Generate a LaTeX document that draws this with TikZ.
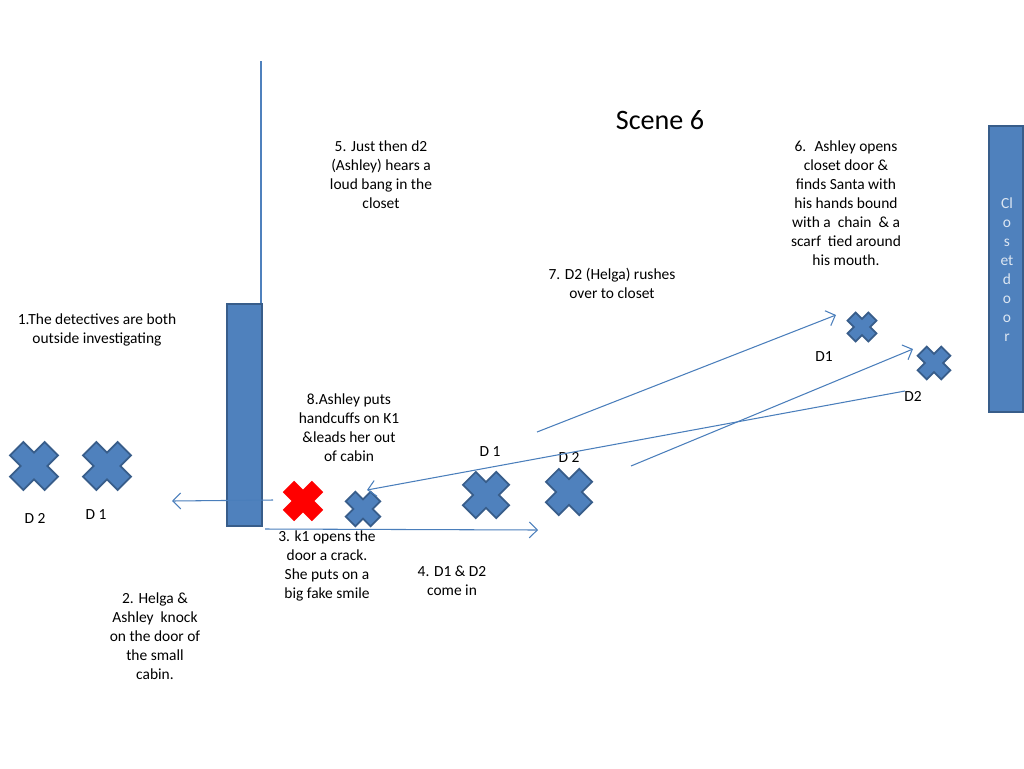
\documentclass[tikz,border=0pt]{standalone}
\usepackage{fontspec}
\setmainfont{Carlito}
\usepackage{xcolor}
\usepackage{tikz}
\usetikzlibrary{arrows.meta}
\definecolor{shapeblue}{HTML}{4F81BD}
\definecolor{shapeedge}{HTML}{385D8A}
\definecolor{linkblue}{HTML}{4A7EBB}
\definecolor{doortext}{HTML}{DCE6F2}
\tikzset{
  xmark/.pic={\path[pic actions, rotate=45] (0.38,0.98) -- (0.38,0.38) -- (0.98,0.38) -- (0.98,-0.38) -- (0.38,-0.38) -- (0.38,-0.98) -- (-0.38,-0.98) -- (-0.38,-0.38) -- (-0.98,-0.38) -- (-0.98,0.38) -- (-0.38,0.38) -- (-0.38,0.98) -- cycle;},
  bluex/.style={fill=shapeblue, draw=shapeedge, line width=1pt},
  redx/.style={fill=red},
  note/.style={align=center, font=\fontsize{8.8}{10.8}\selectfont, inner sep=0pt},
  move/.style={draw=linkblue, line width=0.6pt, -{Straight Barb[length=1.6mm, width=3.2mm]}},
}

\begin{document}
\begin{tikzpicture}[x=0.02cm, y=-0.02cm]
        \useasboundingbox (0,0) rectangle (1024,768);
        % walls
        \draw[shapeblue, line width=0.6pt] (261,61) -- (261,304);
        \node[draw=shapeedge, fill=shapeblue, line width=1.2pt, minimum width=35*0.02cm, minimum height=222*0.02cm, inner sep=0pt] (wall) at (244.5,415) {};
        \node[draw=shapeedge, fill=shapeblue, line width=1.2pt, minimum width=34*0.02cm, minimum height=286*0.02cm, inner sep=0pt] (door) at (1006,269) {};
        \node[note, text=doortext] (doorlabel) at (1007,270) {Cl\\o\\s\\et\\d\\o\\o\\r};
        \node[font=\fontsize{16}{19}\selectfont, inner sep=0pt] (title) at (660,120) {Scene 6};
        % people
        \pic[bluex, scale=25] (d2out) at (34,466) {xmark};
        \pic[bluex, scale=25] (d1out) at (107,466) {xmark};
        \pic[redx, scale=21] (killer) at (303,501) {xmark};
        \pic[bluex, scale=18] (santa) at (363,509) {xmark};
        \pic[bluex, scale=24] (d1in) at (486,495) {xmark};
        \pic[bluex, scale=24] (d2in) at (569,492) {xmark};
        \pic[bluex, scale=15] (d1cl) at (862,327) {xmark};
        \pic[bluex, scale=17] (d2cl) at (934,363) {xmark};
        \node[note] (lab1) at (35,518) {D 2};
        \node[note] (lab2) at (96,515) {D 1};
        \node[note] (lab3) at (490,452) {D 1};
        \node[note] (lab4) at (569,457) {D 2};
        \node[note] (lab5) at (824,357) {D1};
        \node[note] (lab6) at (913,396) {D2};
        % notes
        \node[note] (n1) at (97,329.5) {1.The detectives are both\\outside investigating};
        \node[note] (n2) at (155,636) {2. Helga \&\\Ashley~ knock\\on the door of\\the small\\cabin.};
        \node[note] (n3) at (327,565.5) {3. k1 opens the\\door a crack.\\She puts on a\\big fake smile};
        \node[note] (n4) at (452,580.5) {4. D1 \& D2\\come in};
        \node[note] (n5) at (381,174.5) {5. Just then d2\\(Ashley) hears a\\loud bang in the\\closet};
        \node[note] (n6) at (846,203.5) {6.~ Ashley opens\\closet door \&\\finds Santa with\\his hands bound\\with a~ chain~ \& a\\scarf~ tied around\\his mouth.};
        \node[note] (n7) at (612,283.5) {7. D2 (Helga) rushes\\over to closet};
        \node[note] (n8) at (349,427.5) {8.Ashley puts\\handcuffs on K1\\\&leads her out\\of cabin};
        % moves
        \coordinate (p1) at (273,500);
        \coordinate (q1) at (172,501);
        \coordinate (p2) at (265,529);
        \coordinate (q2) at (538,530);
        \coordinate (p3) at (537,432);
        \coordinate (q3) at (836,315);
        \coordinate (p4) at (631,466);
        \coordinate (q4) at (913,349);
        \coordinate (p5) at (905,391);
        \coordinate (q5) at (367,490);
        \draw[move] (p1) -- (q1);
        \draw[move] (p2) -- (q2);
        \draw[move] (p3) -- (q3);
        \draw[move] (p4) -- (q4);
        \draw[move] (p5) -- (q5);
    \end{tikzpicture}
\end{document}
